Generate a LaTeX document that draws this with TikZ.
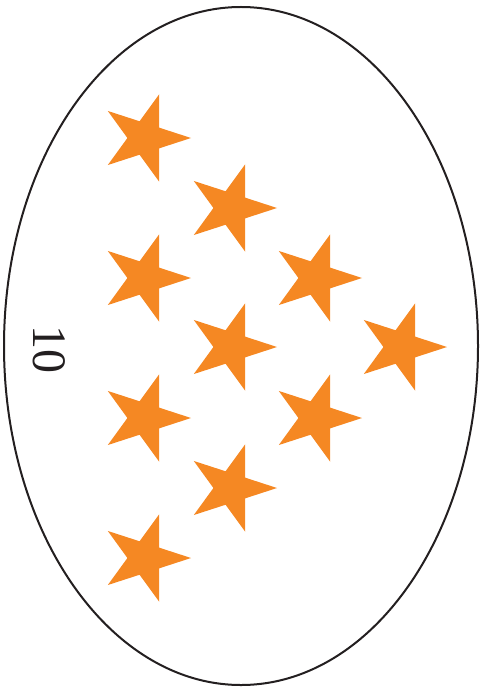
\documentclass[tikz,border=0pt]{standalone}
\usepackage{tikz}
\usepackage{fontspec}
\setmainfont{Liberation Serif}

\definecolor{starorange}{HTML}{F58823}
\definecolor{rimgray}{HTML}{231F20}

\tikzset{
  rim/.style={draw=rimgray, line width=2pt},
  starfill/.style={fill=starorange},
  countlabel/.style={rotate=-90, text=rimgray, font=\fontsize{48}{48}\selectfont}
}

\newcommand{\orangestar}[1]{%
  \fill[starfill] #1 +(0:46) -- +(36:17.6) -- +(72:46) -- +(108:17.6)
    -- +(144:46) -- +(180:17.6) -- +(216:46) -- +(252:17.6)
    -- +(288:46) -- +(324:17.6) -- cycle;}

\begin{document}
\begin{tikzpicture}[x=1pt,y=-1pt]
\useasboundingbox (0,0) rectangle (483,687);
\draw[rim] (241,346) ellipse [x radius=237, y radius=339];
\node[countlabel] (count) at (49,349) {10};
\orangestar{(145,138)}
\orangestar{(145,278)}
\orangestar{(145,418)}
\orangestar{(145,558)}
\orangestar{(231,208)}
\orangestar{(231,347)}
\orangestar{(231,488)}
\orangestar{(316,278)}
\orangestar{(316,418)}
\orangestar{(401,347)}
\end{tikzpicture}
\end{document}
